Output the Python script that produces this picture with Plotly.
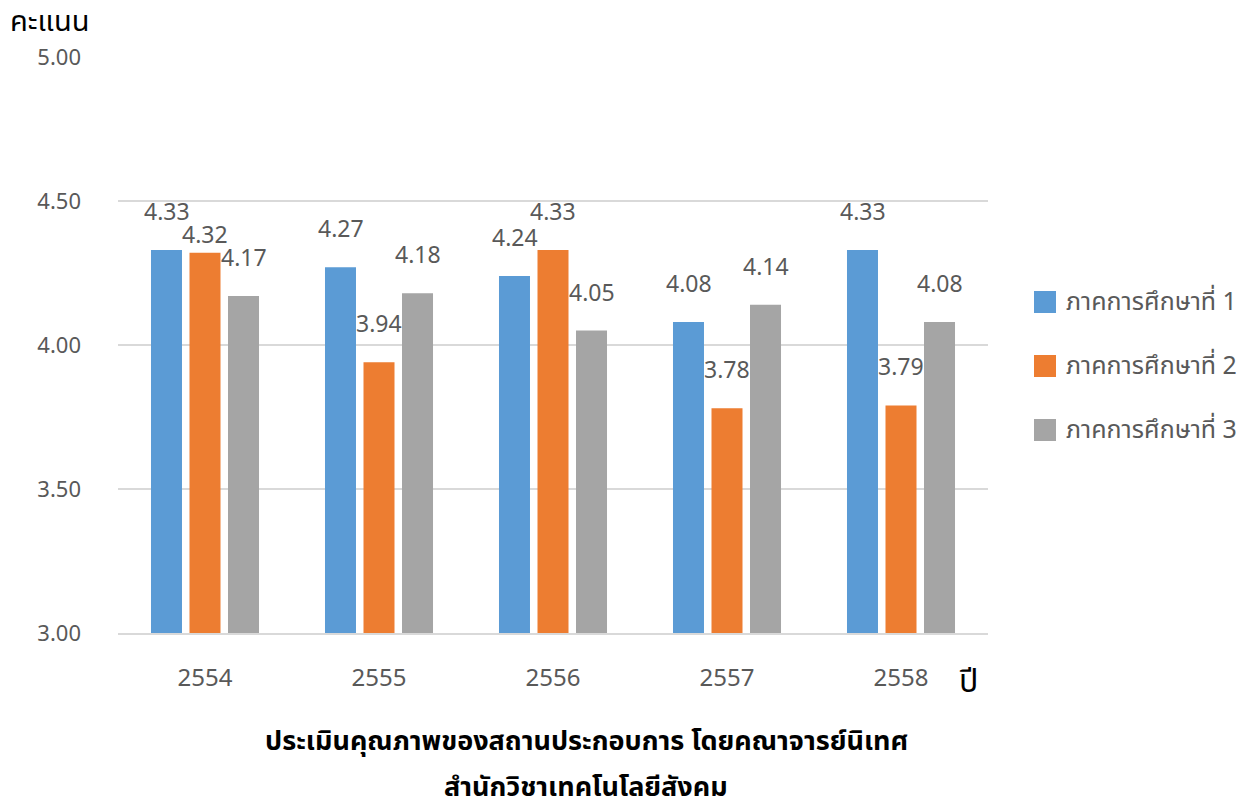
import plotly.graph_objects as go

years = ["2554", "2555", "2556", "2557", "2558"]
series_names = ["ภาคการศึกษาที่ 1", "ภาคการศึกษาที่ 2", "ภาคการศึกษาที่ 3"]
term1 = [4.33, 4.27, 4.24, 4.08, 4.33]
term2 = [4.32, 3.94, 4.33, 3.78, 3.79]
term3 = [4.17, 4.18, 4.05, 4.14, 4.08]
y_ticks = [3.00, 3.50, 4.00, 4.50, 5.00]
y_title = "คะแนน"
x_title = "ปี"
chart_title = ["ประเมินคุณภาพของสถานประกอบการ โดยคณาจารย์นิเทศ", "สำนักวิชาเทคโนโลยีสังคม"]

colors = ["#5B9BD5", "#ED7D31", "#A5A5A5"]
FONT = "Noto Sans Thai, Leelawadee UI, Tahoma, Loma, Garuda, Noto Sans, sans-serif"
TXT = "#595959"

PL, PR, PT, PB = 118, 988, 57, 633  # plot area in pixels
def px_x(p):
    return (p - PL) / (PR - PL)
def px_y(p):
    return (PB - p) / (PB - PT)

fig = go.Figure()
all_series = [term1, term2, term3]
for i, (name, vals) in enumerate(zip(series_names, all_series)):
    fig.add_trace(go.Bar(x=years, y=[v - 3.0 for v in vals], base=3.0, name=name,
                         marker=dict(color=colors[i], line=dict(width=0)),
                         showlegend=False, hoverinfo="skip"))

# data labels
xshifts = [-38.5, 0, 38.5]
for i, vals in enumerate(all_series):
    for j, v in enumerate(vals):
        ys = 17 if (i == 1 and j == 0) else 37
        fig.add_annotation(x=j, y=v, xref="x", yref="y", text=f"{v:.2f}",
                           showarrow=False, xshift=xshifts[i], yshift=ys,
                           font=dict(family=FONT, size=23, color=TXT))

# manual legend (larger swatches as in reference)
leg_y = [302, 366, 430]
for i, name in enumerate(series_names):
    fig.add_shape(type="rect", xref="paper", yref="paper",
                  x0=px_x(1034), x1=px_x(1056), y0=px_y(leg_y[i] + 11), y1=px_y(leg_y[i] - 11),
                  fillcolor=colors[i], line=dict(width=0))
    fig.add_annotation(xref="paper", yref="paper", x=px_x(1064), y=px_y(leg_y[i]),
                       xanchor="left", yanchor="middle", text=name, showarrow=False,
                       font=dict(family=FONT, size=25, color=TXT))

fig.add_annotation(xref="paper", yref="paper", x=px_x(8), y=px_y(22),
                   xanchor="left", yanchor="middle",
                   text=y_title, showarrow=False, font=dict(family=FONT, size=29, color="#000000"))
fig.add_annotation(xref="paper", yref="paper", x=px_x(968), y=px_y(682),
                   xanchor="center", yanchor="middle",
                   text=x_title, showarrow=False, font=dict(family=FONT, size=32, color="#000000"))
for line, py in zip(chart_title, [741, 787]):
    fig.add_annotation(xref="paper", yref="paper", x=px_x(586), y=px_y(py),
                       xanchor="center", yanchor="middle",
                       text=f"<b>{line}</b>", showarrow=False,
                       font=dict(family=FONT, size=27, color="#000000"))

fig.update_layout(
    width=1245, height=810,
    margin=dict(l=PL, r=1245 - PR, t=PT, b=810 - PB),
    paper_bgcolor="white", plot_bgcolor="white",
    barmode="group", bargap=0.336, bargroupgap=0.195,
    font=dict(family=FONT, size=22, color=TXT),
    showlegend=False,
    yaxis=dict(range=[3.0, 5.0], tickvals=y_ticks, ticktext=[f"{t:.2f}" for t in y_ticks],
               showgrid=True, gridcolor="#D9D9D9", gridwidth=1.5, zeroline=False,
               showline=False, ticks="", ticklabelstandoff=36, automargin=False,
               tickfont=dict(family=FONT, size=22, color=TXT)),
    xaxis=dict(type="category", range=[-0.5, len(years) - 0.5], autorange=False,
               showline=True, linecolor="#D9D9D9", linewidth=1.5, ticks="",
               automargin=False,
               tickfont=dict(family=FONT, size=24, color=TXT), ticklabelstandoff=22),
)

fig.write_html("out.html", config={"displayModeBar": False},
               post_script="document.body.style.margin='0';")
